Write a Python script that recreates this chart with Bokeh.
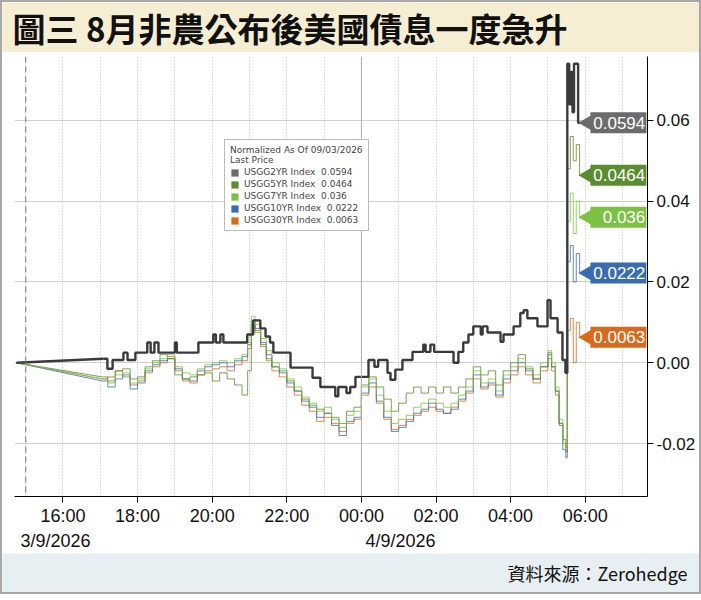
import math
from bokeh.plotting import figure
from bokeh.models import (Range1d, FixedTicker, NumeralTickFormatter, LinearAxis,
                          Span, Legend, LegendItem, Label)
from bokeh.layouts import column
from bokeh.embed import file_html
from bokeh.resources import INLINE
from bokeh.core.properties import value

# ---------------- data ----------------
title_text = "圖三  8月非農公布後美國債息一度急升"
source_text = "資料來源：Zerohedge"

# x positions are hours after 16:00 on 3/9/2026
tick_hours = [0, 2, 4, 6, 8, 10, 12, 14]
tick_labels = ["16:00", "18:00", "20:00", "22:00", "00:00", "02:00", "04:00", "06:00"]
grid_hours = [-1, 0, 1, 2, 3, 4, 5, 6, 7, 8, 9, 10, 11, 12, 13, 14, 15]
date_hours = [-0.2, 9.05]
date_labels = ["3/9/2026", "4/9/2026"]
y_ticks = [-0.02, 0.0, 0.02, 0.04, 0.06]

series_names = ["USGG2YR Index", "USGG5YR Index", "USGG7YR Index",
                "USGG10YR Index", "USGG30YR Index"]
last_prices = [0.0594, 0.0464, 0.036, 0.0222, 0.0063]
last_labels = ["0.0594", "0.0464", "0.036", "0.0222", "0.0063"]
colors = ["#6b6b6b", "#5b8c2f", "#7cc242", "#3a6db0", "#d86a1c"]

t_2y = [-1.25, 1.08, 1.19, 1.33, 1.62, 1.73, 1.94, 2.26, 2.35, 2.45, 2.56, 3.0, 3.05,
        3.63, 4.03, 4.1, 4.22, 4.3, 4.94, 5.10, 5.29, 5.43, 5.55, 5.64, 6.10, 6.69,
        6.90, 7.30, 7.38, 7.60, 7.70, 7.84, 8.19, 8.35, 8.45, 8.70, 8.78, 8.91, 9.10,
        9.37, 9.66, 9.72, 9.85, 9.95, 10.47, 10.60, 10.73, 10.87, 11.0, 11.2, 11.25,
        11.38, 11.73, 11.81, 12.08, 12.26, 12.35, 12.45, 12.72, 12.99, 13.07, 13.26,
        13.39, 13.47, 13.52, 13.57, 13.62, 13.66, 13.70, 13.81, 13.87]
v_2y = [0.0, 0.0010, -0.0015, 0.0007, 0.0025, 0.0007, 0.0025, 0.0050, 0.0025, 0.0050,
        0.0025, 0.0050, 0.0025, 0.0050, 0.0070, 0.0050, 0.0070, 0.0050, 0.0070, 0.0105,
        0.0085, 0.0065, 0.0050, 0.0025, -0.0012, -0.0037, -0.0060, -0.0083, -0.0060,
        -0.0075, -0.0060, -0.0035, 0.0007, -0.0010, 0.0007, -0.0025, -0.0042, -0.0017,
        0.0007, 0.0027, 0.0045, 0.0027, 0.0045, 0.0027, 0.0000, 0.0027, 0.0050, 0.0070,
        0.0090, 0.0070, 0.0090, 0.0075, 0.0052, 0.0070, 0.0090, 0.0123, 0.0130, 0.0110,
        0.0090, 0.0155, 0.0110, 0.0075, 0.0007, -0.0025, 0.0740, 0.0640, 0.0720, 0.0620,
        0.0740, 0.0594, 0.0594]

t_oth = [-1.25, 1.05, 1.2, 1.4, 1.6, 1.8, 2.0, 2.2, 2.4, 2.6, 2.8, 3.0, 3.2, 3.4, 3.6,
         3.8, 4.0, 4.2, 4.4, 4.6, 4.8, 4.95, 5.05, 5.15, 5.3, 5.45, 5.6, 5.8, 6.0, 6.2,
         6.4, 6.6, 6.8, 7.0, 7.2, 7.4, 7.6, 7.8, 8.0, 8.2, 8.4, 8.6, 8.8, 9.0, 9.2, 9.4,
         9.6, 9.8, 10.0, 10.2, 10.4, 10.6, 10.8, 11.0, 11.2, 11.4, 11.6, 11.8, 12.0, 12.2,
         12.4, 12.6, 12.8, 13.0, 13.1, 13.2, 13.3, 13.4, 13.48, 13.52, 13.6, 13.68, 13.76,
         13.85]
v_5y = [0.0, -0.0035, -0.0045, -0.0020, -0.0015, -0.0040, -0.0035, -0.0010, 0.0005,
        0.0020, 0.0010, -0.0030, -0.0040, -0.0035, -0.0030, -0.0025, -0.0045, -0.0025,
        -0.0040, -0.0055, -0.0080, -0.0020, 0.0090, 0.0080, 0.0045, 0.0010, -0.0010,
        -0.0020, -0.0045, -0.0070, -0.0090, -0.0105, -0.0115, -0.0125, -0.0135, -0.0150,
        -0.0120, -0.0110, -0.0055, -0.0035, -0.0060, -0.0090, -0.0120, -0.0100, -0.0075,
        -0.0060, -0.0075, -0.0060, -0.0075, -0.0060, -0.0075, -0.0060, -0.0040, -0.0010,
        -0.0030, -0.0020, -0.0055, -0.0020, 0.0000, 0.0020, -0.0015, -0.0040, -0.0010,
        0.0025, -0.0010, -0.0070, -0.0150, -0.0190, -0.0210, 0.0480, 0.0560, 0.0500,
        0.0540, 0.0464]
v_7y = [0.0, -0.0040, -0.0050, -0.0030, -0.0025, -0.0050, -0.0040, -0.0015, 0.0000,
        0.0010, 0.0020, -0.0010, -0.0025, -0.0030, -0.0015, -0.0005, 0.0000, 0.0005,
        0.0000, 0.0010, 0.0020, 0.0050, 0.0115, 0.0095, 0.0060, 0.0030, 0.0000, -0.0015,
        -0.0040, -0.0060, -0.0085, -0.0100, -0.0120, -0.0110, -0.0140, -0.0160, -0.0130,
        -0.0120, -0.0060, -0.0040, -0.0080, -0.0120, -0.0150, -0.0140, -0.0130, -0.0110,
        -0.0100, -0.0090, -0.0100, -0.0110, -0.0100, -0.0080, -0.0060, -0.0020, -0.0050,
        -0.0040, -0.0070, -0.0030, -0.0010, 0.0010, -0.0010, -0.0030, 0.0000, 0.0030,
        0.0000, -0.0060, -0.0140, -0.0200, -0.0215, 0.0350, 0.0420, 0.0320, 0.0400,
        0.0360]
v_10y = [0.0, -0.0045, -0.0060, -0.0040, -0.0030, -0.0065, -0.0050, -0.0020, -0.0005,
         0.0005, 0.0010, -0.0015, -0.0040, -0.0045, -0.0020, -0.0010, -0.0005, 0.0000,
         -0.0010, 0.0005, 0.0015, 0.0045, 0.0105, 0.0085, 0.0050, 0.0020, -0.0010,
         -0.0025, -0.0050, -0.0070, -0.0095, -0.0110, -0.0135, -0.0125, -0.0155, -0.0180,
         -0.0145, -0.0135, -0.0075, -0.0050, -0.0095, -0.0135, -0.0170, -0.0160, -0.0145,
         -0.0125, -0.0115, -0.0100, -0.0115, -0.0125, -0.0115, -0.0090, -0.0070, -0.0030,
         -0.0060, -0.0050, -0.0080, -0.0040, -0.0020, 0.0000, -0.0020, -0.0040, -0.0010,
         0.0020, -0.0010, -0.0070, -0.0155, -0.0215, -0.0235, 0.0250, 0.0290, 0.0200,
         0.0270, 0.0222]
v_30y = [0.0, -0.0040, -0.0035, -0.0020, -0.0035, -0.0055, -0.0045, -0.0025, -0.0010,
         0.0000, 0.0015, -0.0020, -0.0045, -0.0050, -0.0030, -0.0020, -0.0015, -0.0010,
         -0.0020, -0.0005, 0.0005, 0.0035, 0.0095, 0.0075, 0.0040, 0.0005, -0.0020,
         -0.0035, -0.0060, -0.0080, -0.0105, -0.0120, -0.0145, -0.0135, -0.0150, -0.0170,
         -0.0150, -0.0140, -0.0080, -0.0060, -0.0100, -0.0140, -0.0165, -0.0155, -0.0140,
         -0.0130, -0.0120, -0.0110, -0.0120, -0.0125, -0.0110, -0.0095, -0.0075, -0.0040,
         -0.0065, -0.0055, -0.0085, -0.0050, -0.0030, -0.0010, -0.0030, -0.0050, -0.0020,
         0.0010, -0.0020, -0.0080, -0.0150, -0.0200, -0.0220, 0.0080, 0.0110, 0.0000,
         0.0100, 0.0063]

# ---------------- styling ----------------
W = 697
AXIS_FONT = "Liberation Sans"
CJK_FONT = "Noto Sans CJK TC"


def band(height, color):
    f = figure(width=W, height=height, x_range=Range1d(0, W), y_range=Range1d(0, height),
               x_axis_type=None, y_axis_type=None, output_backend="svg",
               toolbar_location=None, min_border=0, frame_align=False)
    f.grid.visible = False
    f.outline_line_color = None
    f.background_fill_color = color
    f.border_fill_color = color
    return f


# title band
tf = band(50, "#f6eed3")
tf.add_layout(Label(x=10, y=25, x_units="canvas", y_units="data", text=title_text,
                    text_font=CJK_FONT, text_font_style="bold", text_font_size="33px",
                    text_baseline="middle", text_align="left", text_color="#111111"))

# main chart
p = figure(width=W, height=501, x_range=Range1d(-1.30, 15.67),
           y_range=Range1d(-0.0331, 0.0758), y_axis_location="right",
           output_backend="svg", toolbar_location=None, frame_align=False,
           min_border_left=12, min_border_top=4, min_border_bottom=56, min_border_right=52)
p.outline_line_color = None
p.background_fill_color = "white"
p.border_fill_color = "white"

p.xgrid.ticker = FixedTicker(ticks=grid_hours)
p.xgrid.grid_line_color = "#b5b5b5"
p.xgrid.grid_line_dash = "1 2"
p.ygrid.ticker = FixedTicker(ticks=y_ticks)
p.ygrid.grid_line_color = "#cfcfcf"

p.add_layout(Span(location=-1, dimension="height", line_color="#8a8a8a",
                  line_dash="6 4", line_width=1.2))
p.add_layout(Span(location=8, dimension="height", line_color="#b0b0b0", line_width=1))

xa = p.xaxis[0]
xa.ticker = FixedTicker(ticks=tick_hours, minor_ticks=[])
xa.major_label_overrides = dict(zip(tick_hours, tick_labels))
xa.axis_line_color = "black"
xa.major_tick_line_color = "black"
xa.major_tick_out = 6
xa.major_tick_in = 0
xa.minor_tick_line_color = None
xa.major_label_standoff = 3
xa.major_label_text_font = AXIS_FONT
xa.major_label_text_font_size = "18px"
xa.major_label_text_color = "#111111"

xa2 = LinearAxis(ticker=FixedTicker(ticks=date_hours, minor_ticks=[]),
                 major_label_overrides=dict(zip(date_hours, date_labels)))
xa2.axis_line_color = None
xa2.major_tick_line_color = None
xa2.minor_tick_line_color = None
xa2.major_tick_out = 0
xa2.major_label_standoff = 2
xa2.major_label_text_font = AXIS_FONT
xa2.major_label_text_font_size = "18px"
xa2.major_label_text_color = "#111111"
p.add_layout(xa2, "below")

ya = p.yaxis[0]
ya.ticker = FixedTicker(ticks=y_ticks, minor_ticks=[])
ya.formatter = NumeralTickFormatter(format="0.00")
ya.axis_line_color = "black"
ya.major_tick_line_color = "black"
ya.major_tick_out = 6
ya.major_tick_in = 0
ya.minor_tick_line_color = None
ya.major_label_standoff = 3
ya.major_label_text_font = AXIS_FONT
ya.major_label_text_font_size = "17px"
ya.major_label_text_color = "#111111"

# lines: thin coloured series first, 2Y on top
for vals, col in [(v_30y, colors[4]), (v_10y, colors[3]), (v_5y, colors[1]), (v_7y, colors[2])]:
    p.line(t_oth[:2], vals[:2], line_color=col, line_width=1, line_alpha=0.8)
    p.step(t_oth[1:], vals[1:], mode="after", line_color=col, line_width=1, line_alpha=0.8)
p.line(t_2y[:2], v_2y[:2], line_color="#3a3a3a", line_width=2.4)
p.step(t_2y[1:], v_2y[1:], mode="after", line_color="#3a3a3a", line_width=2.4)

# last-price tags
tag_left, tag_right = 14.14, 15.64
items = []
for name, lp, lab, col in zip(series_names, last_prices, last_labels, colors):
    r = p.rect(x=[(tag_left + tag_right) / 2], y=[lp], width=tag_right - tag_left,
               height=21, height_units="screen", fill_color=col, line_color=None)
    p.scatter(x=[tag_left], y=[lp], marker="triangle", size=21, angle=90,
              angle_units="deg", fill_color=col, line_color=None)
    p.text(x=[tag_right - 0.03], y=[lp], text=[lab], text_align="right",
           text_baseline="middle", text_color="white", text_font=value(AXIS_FONT),
           text_font_size="17px")
    items.append(LegendItem(label=f"{name}  {lab}", renderers=[r]))

legend = Legend(items=items, location=(210, 265),
                title="Normalized As Of 09/03/2026\nLast Price")
legend.title_text_font_size = "9px"
legend.title_text_font_style = "normal"
legend.title_text_font = "DejaVu Sans"
legend.label_text_font = "DejaVu Sans"
legend.label_text_font_size = "9px"
legend.glyph_width = 9
legend.glyph_height = 9
legend.label_height = 9
legend.spacing = 2
legend.padding = 5
legend.margin = 0
legend.title_standoff = 2
legend.border_line_color = "#777777"
legend.background_fill_color = "white"
legend.background_fill_alpha = 1
p.add_layout(legend)

# source band
ff = band(39, "#e7eff2")
ff.add_layout(Label(x=685, y=20, x_units="canvas", y_units="data", text=source_text,
                    text_font=CJK_FONT, text_font_size="18px", text_align="right",
                    text_baseline="middle", text_color="#111111"))

layout = column(tf, p, ff, spacing=0, styles={"border": "2px solid #a8a8a8"})
open("out.html", "w").write(file_html(layout, INLINE))
